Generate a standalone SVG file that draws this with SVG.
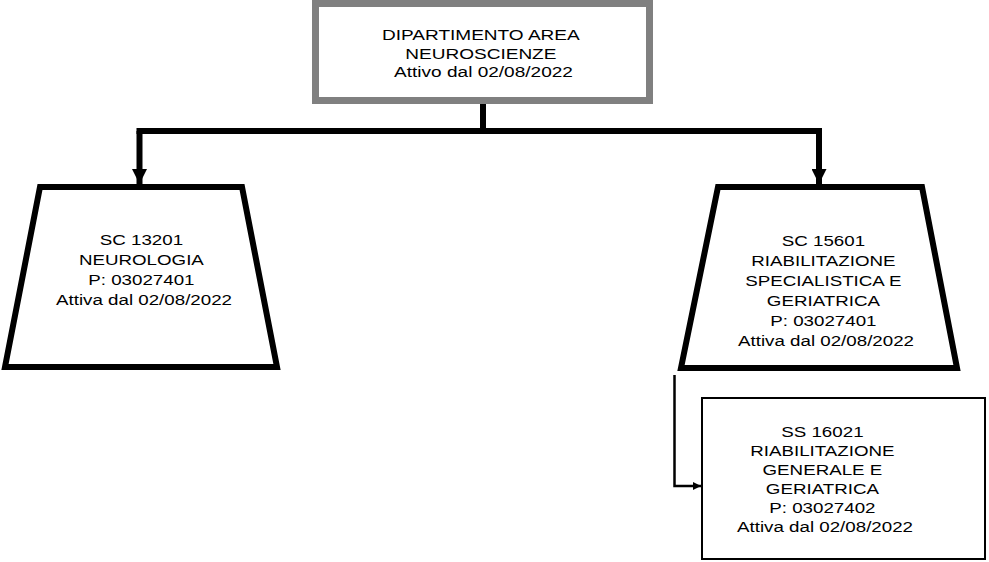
<svg xmlns="http://www.w3.org/2000/svg" width="989" height="562" viewBox="0 0 989 562">
  <style>
    .lbl { font-family: "Liberation Sans", Arial, sans-serif; font-size: 15px; fill: #000; text-anchor: middle; }
    .dept { fill: #fff; stroke: #808080; stroke-width: 7; }
    .sc { fill: #fff; stroke: #000; stroke-width: 6; stroke-linejoin: miter; }
    .ss { fill: #fff; stroke: #000; stroke-width: 2; }
    .wire { fill: none; stroke: #000; stroke-linejoin: miter; }
    .thick { stroke-width: 6; }
    .thin { stroke-width: 2.5; }
  </style>
  <defs>
    <marker id="headBig" viewBox="0 0 10 10" refX="10" refY="5" markerUnits="userSpaceOnUse" markerWidth="17" markerHeight="15" orient="auto">
      <path d="M0 0 L10 5 L0 10 Z" fill="#000"/>
    </marker>
    <marker id="headSmall" viewBox="0 0 10 10" refX="10" refY="5" markerUnits="userSpaceOnUse" markerWidth="9" markerHeight="8" orient="auto">
      <path d="M0 0 L10 5 L0 10 Z" fill="#000"/>
    </marker>
  </defs>

  <!-- connectors -->
  <g id="connectors">
    <path class="wire thick" d="M483 100 V131"/>
    <path class="wire thick" d="M136.5 131 H822"/>
    <path class="wire thick" d="M139.5 131 V184" marker-end="url(#headBig)"/>
    <path class="wire thick" d="M819 131 V184" marker-end="url(#headBig)"/>
    <path class="wire thin" d="M674.5 375 V486 H701" marker-end="url(#headSmall)"/>
  </g>

  <!-- department -->
  <g id="n-dipartimento">
    <rect class="dept" x="315.5" y="3.5" width="334" height="97"/>
    <g transform="translate(483.5 0) scale(1.27 1)">
      <text class="lbl">
        <tspan x="0" y="40">DIPARTIMENTO AREA</tspan>
        <tspan x="0" y="59">NEUROSCIENZE</tspan>
        <tspan x="0" y="77.5">Attivo dal 02/08/2022</tspan>
      </text>
    </g>
  </g>

  <!-- SC 13201 -->
  <g id="n-sc13201">
    <path class="sc" d="M40 187 H242 L277 367 H5 Z"/>
    <g transform="translate(144 0) scale(1.25 1)">
      <text class="lbl">
        <tspan x="0" y="245">SC 13201</tspan>
        <tspan x="0" y="265">NEUROLOGIA</tspan>
        <tspan x="0" y="285">P: 03027401</tspan>
        <tspan x="0" y="305">Attiva dal 02/08/2022</tspan>
      </text>
    </g>
  </g>

  <!-- SC 15601 -->
  <g id="n-sc15601">
    <path class="sc" d="M718 187 H922 L957 368 H681 Z"/>
    <g transform="translate(826 0) scale(1.25 1)">
      <text class="lbl">
        <tspan x="0" y="246">SC 15601</tspan>
        <tspan x="0" y="266">RIABILITAZIONE</tspan>
        <tspan x="0" y="286">SPECIALISTICA E</tspan>
        <tspan x="0" y="306">GERIATRICA</tspan>
        <tspan x="0" y="326">P: 03027401</tspan>
        <tspan x="0" y="346">Attiva dal 02/08/2022</tspan>
      </text>
    </g>
  </g>

  <!-- SS 16021 -->
  <g id="n-ss16021">
    <rect class="ss" x="702" y="398" width="283" height="161"/>
    <g transform="translate(825 0) scale(1.25 1)">
      <text class="lbl">
        <tspan x="0" y="437">SS 16021</tspan>
        <tspan x="0" y="456">RIABILITAZIONE</tspan>
        <tspan x="0" y="475">GENERALE E</tspan>
        <tspan x="0" y="494">GERIATRICA</tspan>
        <tspan x="0" y="513">P: 03027402</tspan>
        <tspan x="0" y="532">Attiva dal 02/08/2022</tspan>
      </text>
    </g>
  </g>
</svg>
